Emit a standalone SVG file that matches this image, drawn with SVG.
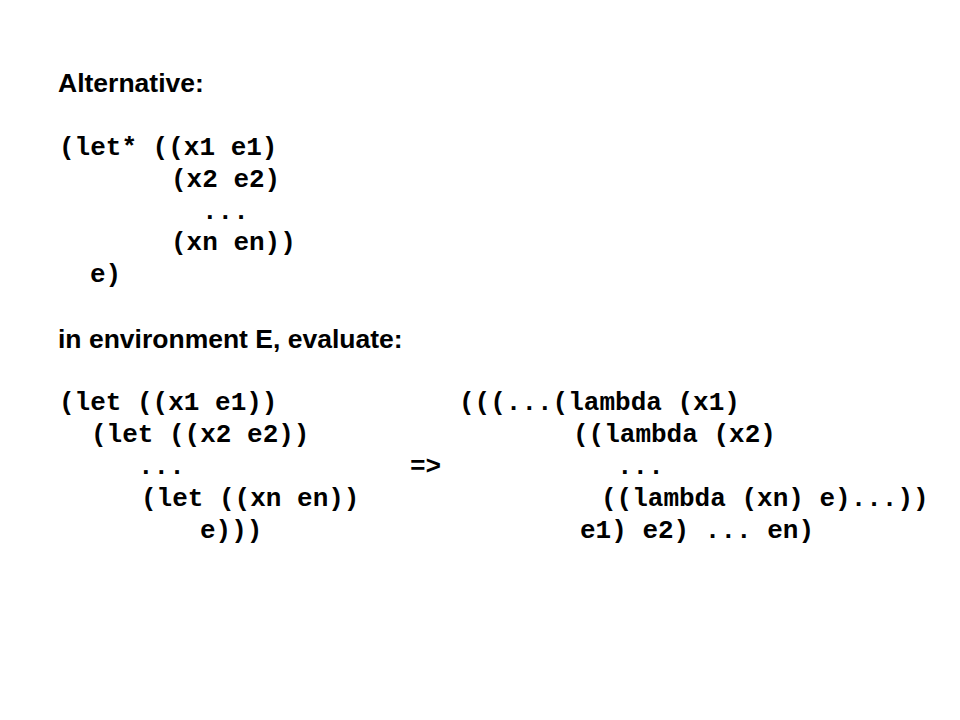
<svg xmlns="http://www.w3.org/2000/svg" width="960" height="720" viewBox="0 0 960 720">
<style>
.h{font-family:"Liberation Sans",Arial,sans-serif;font-weight:bold;font-size:26.5px;fill:#000}
.c{font-family:"Liberation Mono","Courier New",monospace;font-weight:bold;font-size:26px;fill:#000;white-space:pre}
</style>
<rect width="960" height="720" fill="#fff"/>
<g id="alt">
<text class="h" x="58" y="92">Alternative:</text>
<text class="c" x="59" y="155">(let* ((x1 e1)</text>
<text class="c" x="171" y="187">(x2 e2)</text>
<text class="c" x="202" y="219">...</text>
<text class="c" x="171" y="250">(xn en))</text>
<text class="c" x="90" y="282">e)</text>
</g>
<g id="eval">
<text class="h" x="58" y="348">in environment E, evaluate:</text>
</g>
<g id="left">
<text class="c" x="59" y="410">(let ((x1 e1))</text>
<text class="c" x="91" y="442">(let ((x2 e2))</text>
<text class="c" x="138" y="474">...</text>
<text class="c" x="141" y="506">(let ((xn en))</text>
<text class="c" x="200" y="538">e)))</text>
</g>
<g id="arrow">
<text class="c" x="410" y="474">=&gt;</text>
</g>
<g id="right">
<text class="c" x="459" y="410">(((...(lambda (x1)</text>
<text class="c" x="573" y="442">((lambda (x2)</text>
<text class="c" x="617" y="474">...</text>
<text class="c" x="601" y="506">((lambda (xn) e)...))</text>
<text class="c" x="580" y="538">e1) e2) ... en)</text>
</g>
</svg>
